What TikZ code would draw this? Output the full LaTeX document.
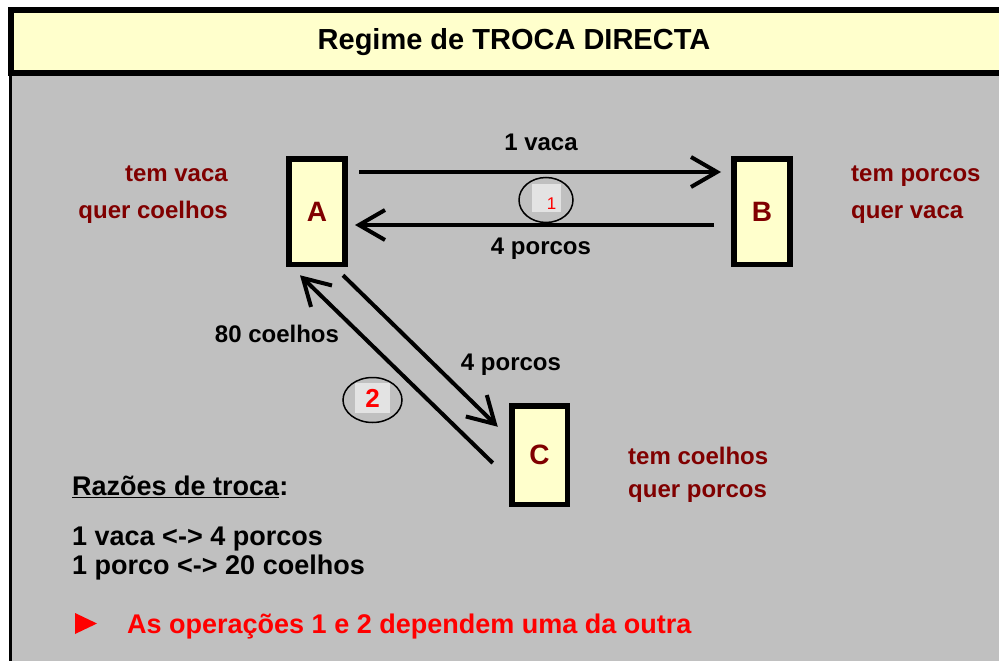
\documentclass[tikz,border=0pt]{standalone}
\usepackage{fontspec}
\setmainfont{Liberation Sans}
\usetikzlibrary{arrows.meta,shapes.geometric}
\definecolor{band}{HTML}{FFFFCC}
\definecolor{back}{HTML}{C0C0C0}
\definecolor{dred}{HTML}{800000}
\definecolor{sq}{HTML}{E3E3E3}
\begin{document}
\begin{tikzpicture}[x=1pt,y=-1pt,
  agent/.style={draw,line width=5.5pt,fill=band,inner sep=0pt,outer sep=0pt,minimum width=56pt,minimum height=105.5pt,text=dred,font=\fontsize{28}{30}\selectfont\bfseries},
  lbl/.style={font=\fontsize{24}{28}\selectfont\bfseries,inner sep=0pt},
  want/.style={lbl,text=dred,align=left,font=\fontsize{24}{37}\selectfont\bfseries},
  flow/.style={line width=4pt,-{Straight Barb[length=26pt,width=30pt]}},
  op/.style={draw,ellipse,line width=1.5pt,inner sep=0pt},
  box/.style={fill=sq,inner sep=0pt},
  txt/.style={font=\fontsize{27}{29}\selectfont\bfseries,anchor=west,inner sep=0pt,align=left}]
\useasboundingbox (0,0) rectangle (999,661);
\fill[back] (10,76) rectangle (999,661);
\draw[line width=3pt] (10.5,74) -- (10.5,661);
\draw[fill=band,line width=6pt] (11,10.5) rectangle (1015,73);
\node[font=\fontsize{29}{32}\selectfont\bfseries] (title) at (514,42) {Regime de TROCA DIRECTA};

\node[agent] (A) at (317,211.5) {A};
\node[agent] (B) at (762,211.5) {B};
\node[agent,minimum width=55.5pt,minimum height=98.5pt] (C) at (539.5,455) {C};

\node[want,anchor=east,align=right] (wa) at (228,194.5) {tem vaca\\quer coelhos};
\node[want,anchor=west] (wb) at (851,194.5) {tem porcos\\quer vaca};
\node[want,anchor=west,font=\fontsize{24}{33}\selectfont\bfseries] (wc) at (628,475) {tem coelhos\\quer porcos};

\draw[flow] ([shift={(14,-39.5)}]A.east) -- ([shift={(-13,-39.5)}]B.west);
\draw[flow] ([shift={(-20,13.5)}]B.west) -- ([shift={(10,13.5)}]A.east);
\draw[flow] ([shift={(-2,11)}]A.south east) -- ([shift={(-14,21)}]C.north west);
\draw[flow] ([shift={(-19,8)}]C.west) -- ([shift={(11,11)}]A.south west);

\node[lbl] (vaca) at (541,142) {1 vaca};
\node[lbl] (porcos) at (541,249) {4 porcos};
\node[lbl] (coelhos) at (277,334) {80 coelhos};
\node[lbl] (porcos2) at (511,365) {4 porcos};

\node[op,minimum width=54pt,minimum height=45pt] (op1) at (546,200) {};
\node[box,minimum width=29pt,minimum height=28pt] (sq1) at (546.5,198) {};
\node[text=red,font=\fontsize{17}{17}\selectfont,inner sep=0pt] (n1) at (551.5,204) {1};
\node[op,minimum width=59pt,minimum height=45pt] (op2) at (372.5,400) {};
\node[box,minimum width=35pt,minimum height=30pt,text=red,font=\fontsize{26}{26}\selectfont\bfseries] (n2) at (372.5,398) {2};

\node[txt] (razoes) at (72,487) {\underline{Razões de troca}:};
\node[txt] (rates) at (72,553.5) {1 vaca <-> 4 porcos\\1 porco <-> 20 coelhos};
\fill[red] (75,613) -- (97,623.5) -- (75,634) -- cycle;
\node[txt,text=red] (note) at (127,627) {As operações 1 e 2 dependem uma da outra};
\end{tikzpicture}
\end{document}
